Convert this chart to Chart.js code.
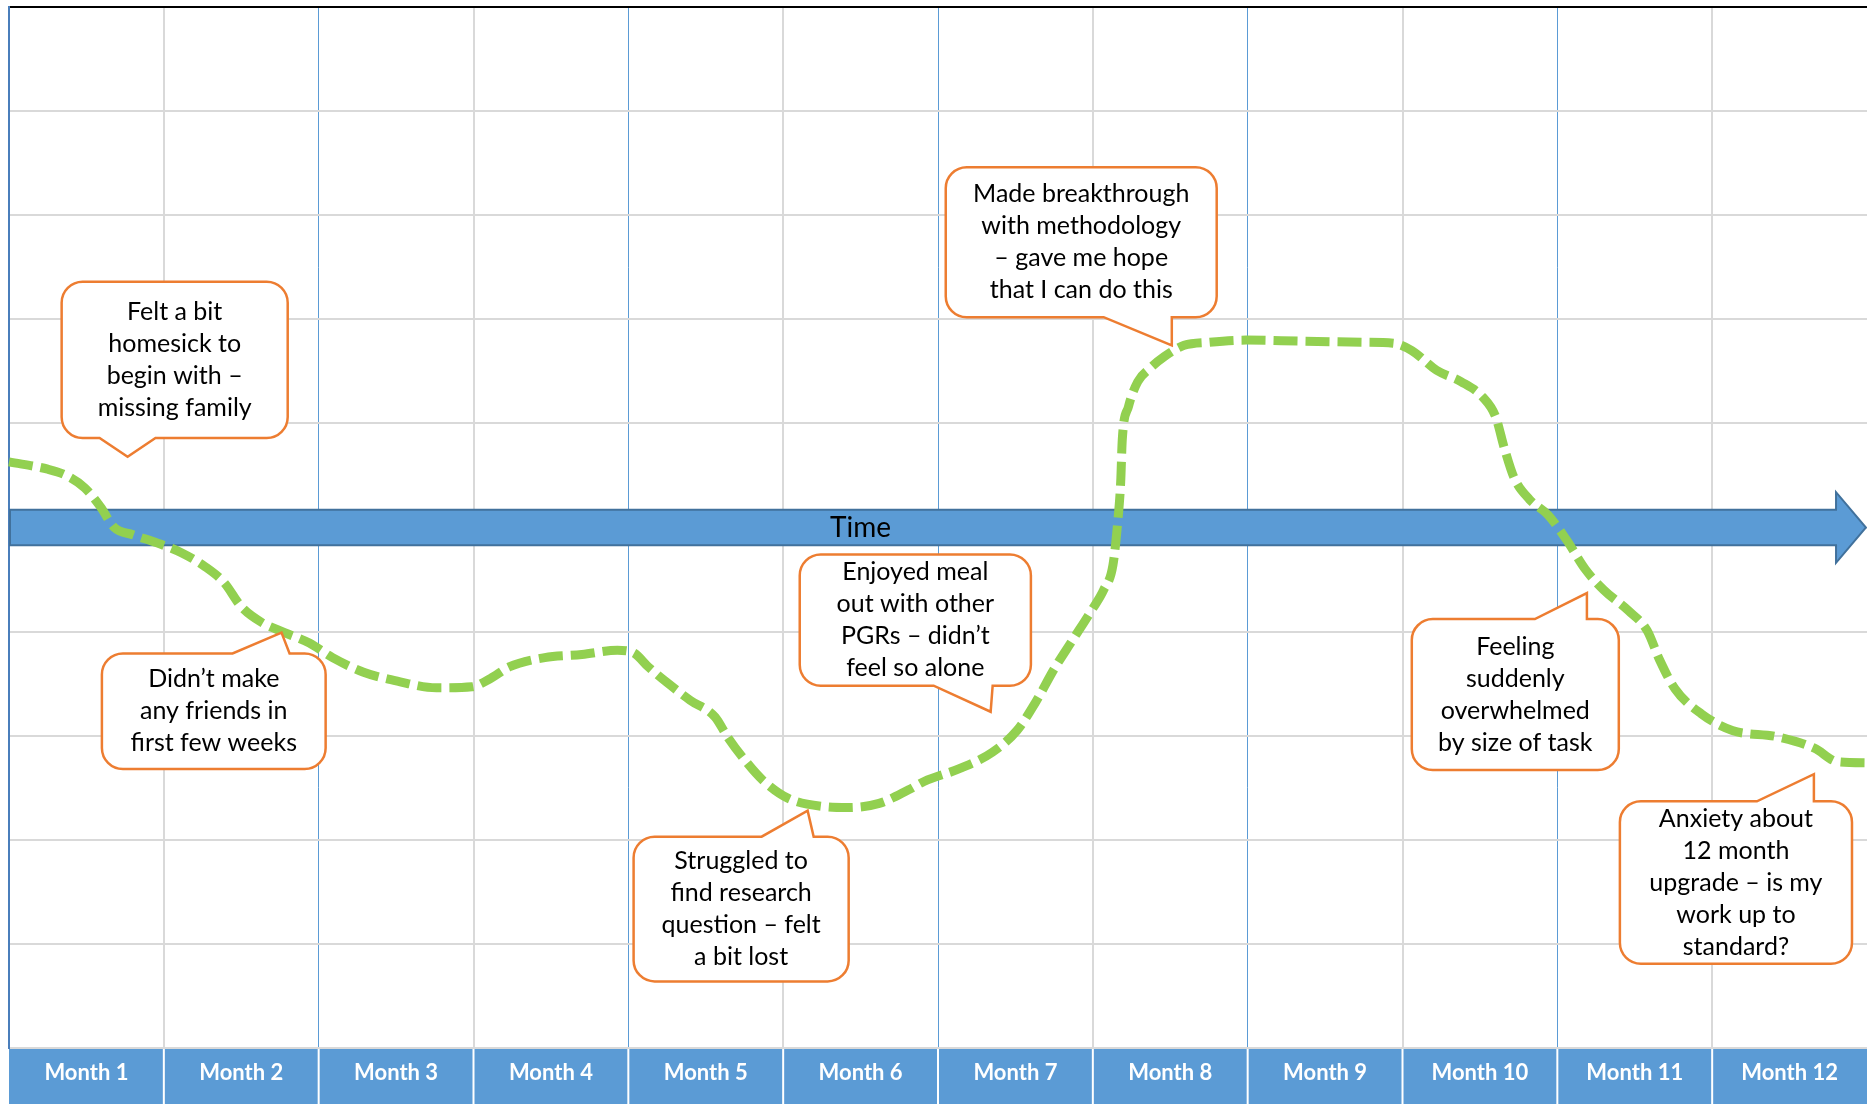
<!DOCTYPE html>
<html lang="en">
<head>
<meta charset="UTF-8">
<title>First year journey</title>
<script src="https://cdn.jsdelivr.net/npm/chart.js@4.4.0/dist/chart.umd.min.js"></script>
<style>
  body {
    margin: 0;
    background: #ffffff;
  }
  .wrap {
    width: 1867px;
    height: 1104px;
    position: relative;
  }
</style>
</head>
<body>
<div class="wrap"><canvas id="journey"></canvas></div>
<script>
const months = ['Month 1', 'Month 2', 'Month 3', 'Month 4', 'Month 5', 'Month 6',
  'Month 7', 'Month 8', 'Month 9', 'Month 10', 'Month 11', 'Month 12'];

// mood line (x in months from the start, y on a 0-10 scale)
const timeX = [0, 0.25, 0.37, 0.49, 0.59, 0.68, 0.80, 0.96, 1.11, 1.27, 1.39, 1.50, 1.63, 1.78, 1.94,
  2.09, 2.29, 2.52, 2.76, 2.99, 3.11, 3.23, 3.46, 3.70, 3.93, 4.03, 4.13, 4.25, 4.40, 4.56, 4.64,
  4.75, 4.87, 5.03, 5.26, 5.42, 5.62, 5.81, 5.91, 6.15, 6.35, 6.51, 6.63, 6.75, 6.87, 6.99, 7.07,
  7.13, 7.16, 7.18, 7.19, 7.23, 7.29, 7.37, 7.46, 7.59, 7.75, 7.99, 8.34, 8.74, 8.94, 9.06, 9.22,
  9.38, 9.52, 9.60, 9.66, 9.72, 9.82, 9.94, 10.06, 10.18, 10.30, 10.46, 10.58, 10.66, 10.76, 10.93,
  11.13, 11.42, 11.66, 11.81, 12];
const moodY = [5.63, 5.56, 5.50, 5.38, 5.20, 5.00, 4.93, 4.85, 4.76, 4.62, 4.47, 4.24, 4.09, 3.99, 3.89,
  3.75, 3.61, 3.52, 3.46, 3.47, 3.55, 3.66, 3.75, 3.78, 3.82, 3.80, 3.66, 3.51, 3.34, 3.18, 2.99,
  2.77, 2.57, 2.40, 2.32, 2.31, 2.35, 2.48, 2.56, 2.69, 2.84, 3.05, 3.32, 3.64, 3.92, 4.20, 4.40,
  4.64, 5.04, 5.44, 5.84, 6.16, 6.40, 6.53, 6.64, 6.75, 6.78, 6.80, 6.79, 6.78, 6.77, 6.70, 6.51,
  6.40, 6.25, 6.07, 5.75, 5.48, 5.27, 5.12, 4.88, 4.60, 4.40, 4.20, 4.01, 3.73, 3.45, 3.21,
  3.05, 2.99, 2.88, 2.75, 2.74];

const noteTexts = [
  ['Felt a bit', 'homesick to', 'begin with –', 'missing family'],
  ['Didn’t make', 'any friends in', 'first few weeks'],
  ['Enjoyed meal', 'out with other', 'PGRs – didn’t', 'feel so alone'],
  ['Made breakthrough', 'with methodology', '– gave me hope', 'that I can do this'],
  ['Feeling', 'suddenly', 'overwhelmed', 'by size of task'],
  ['Struggled to', 'find research', 'question – felt', 'a bit lost'],
  ['Anxiety about', '12 month', 'upgrade – is my', 'work up to', 'standard?']
];

// callout placement in chart units: box x range, box y range (top, bottom), pointer base, pointer tip
const noteBoxes = [
  { x: [0.34, 1.80], y: [7.36, 5.86], base: [0.585, 0.946], tip: [0.766, 5.68], side: 'bottom' },
  { x: [0.60, 2.045], y: [3.79, 2.68], base: [1.444, 1.812], tip: [1.760, 3.99], side: 'top' },
  { x: [5.107, 6.60], y: [4.74, 3.48], base: [5.972, 6.353], tip: [6.340, 3.23], side: 'bottom' },
  { x: [6.05, 7.80], y: [8.46, 7.02], base: [7.070, 7.510], tip: [7.510, 6.75], side: 'bottom' },
  { x: [9.06, 10.397], y: [4.12, 2.67], base: [9.855, 10.191], tip: [10.191, 4.37], side: 'top' },
  { x: [4.034, 5.423], y: [2.03, 0.64], base: [4.861, 5.197], tip: [5.158, 2.28], side: 'top' },
  { x: [10.404, 11.903], y: [2.37, 0.81], base: [11.289, 11.657], tip: [11.657, 2.63], side: 'top' }
];

function drawCallout(ctx, xs, ys, box, lines) {
  const L = xs.getPixelForValue(box.x[0]);
  const R = xs.getPixelForValue(box.x[1]);
  const T = ys.getPixelForValue(box.y[0]);
  const B = ys.getPixelForValue(box.y[1]);
  const b0 = xs.getPixelForValue(box.base[0]);
  const b1 = xs.getPixelForValue(box.base[1]);
  const tx = xs.getPixelForValue(box.tip[0]);
  const ty = ys.getPixelForValue(box.tip[1]);
  const r = 21;

  ctx.beginPath();
  ctx.moveTo(L + r, T);
  if (box.side === 'top') {
    ctx.lineTo(b0, T);
    ctx.lineTo(tx, ty);
    ctx.lineTo(b1, T);
  }
  ctx.lineTo(R - r, T);
  ctx.arcTo(R, T, R, T + r, r);
  ctx.lineTo(R, B - r);
  ctx.arcTo(R, B, R - r, B, r);
  if (box.side === 'bottom') {
    ctx.lineTo(b1, B);
    ctx.lineTo(tx, ty);
    ctx.lineTo(b0, B);
  }
  ctx.lineTo(L + r, B);
  ctx.arcTo(L, B, L, B - r, r);
  ctx.lineTo(L, T + r);
  ctx.arcTo(L, T, L + r, T, r);
  ctx.closePath();
  ctx.fillStyle = '#ffffff';
  ctx.fill();
  ctx.strokeStyle = '#ed7d31';
  ctx.lineWidth = 2.5;
  ctx.stroke();

  ctx.fillStyle = '#000000';
  ctx.font = '25px Lato';
  ctx.textAlign = 'center';
  ctx.textBaseline = 'middle';
  const cx = (L + R) / 2;
  const cy = (T + B) / 2;
  lines.forEach((line, i) => {
    ctx.fillText(line, cx, cy + (i - (lines.length - 1) / 2) * 32);
  });
}

const decorPlugin = {
  id: 'decor',
  beforeDraw(chart) {
    // blue month band under the plot
    const s = chart.scales.months;
    const ctx = chart.ctx;
    ctx.save();
    ctx.fillStyle = '#5b9bd5';
    ctx.fillRect(s.left, s.top + 1, s.right - s.left, s.bottom - s.top - 1);
    ctx.strokeStyle = '#ffffff';
    ctx.lineWidth = 2;
    const w = (s.right - s.left) / months.length;
    for (let i = 1; i < months.length; i++) {
      ctx.beginPath();
      ctx.moveTo(s.left + i * w, s.top);
      ctx.lineTo(s.left + i * w, s.bottom);
      ctx.stroke();
    }
    ctx.restore();
  },
  beforeDatasetsDraw(chart) {
    // the "Time" arrow along the middle
    const xs = chart.scales.x;
    const ys = chart.scales.y;
    const ctx = chart.ctx;
    const x0 = xs.getPixelForValue(0);
    const xh = xs.getPixelForValue(11.8);
    const xt = xs.getPixelForValue(12);
    const yc = ys.getPixelForValue(5);
    const barTop = ys.getPixelForValue(5.17);
    const barBot = ys.getPixelForValue(4.83);
    const headTop = ys.getPixelForValue(5.34);
    const headBot = ys.getPixelForValue(4.66);
    ctx.save();
    ctx.beginPath();
    ctx.moveTo(x0 + 1, barTop);
    ctx.lineTo(xh, barTop);
    ctx.lineTo(xh, headTop);
    ctx.lineTo(xt - 1, yc);
    ctx.lineTo(xh, headBot);
    ctx.lineTo(xh, barBot);
    ctx.lineTo(x0 + 1, barBot);
    ctx.closePath();
    ctx.fillStyle = '#5b9bd5';
    ctx.fill();
    ctx.strokeStyle = '#41719c';
    ctx.lineWidth = 2;
    ctx.stroke();
    ctx.fillStyle = '#000000';
    ctx.font = '28px Lato';
    ctx.textAlign = 'center';
    ctx.textBaseline = 'middle';
    ctx.fillText('Time', xs.getPixelForValue(5.5), yc);
    ctx.restore();
  },
  afterDatasetsDraw(chart) {
    const ctx = chart.ctx;
    ctx.save();
    noteBoxes.forEach((box, i) => drawCallout(ctx, chart.scales.x, chart.scales.y, box, noteTexts[i]));
    ctx.restore();
  }
};

new Chart(document.getElementById('journey').getContext('2d'), {
  type: 'line',
  data: {
    datasets: [{
      data: timeX.map((x, i) => ({ x: x, y: moodY[i] })),
      borderColor: '#92d050',
      borderWidth: 9,
      borderDash: [24, 8],
      cubicInterpolationMode: 'monotone',
      pointRadius: 0,
      fill: false,
      clip: false
    }]
  },
  options: {
    responsive: true,
    maintainAspectRatio: false,
    animation: false,
    layout: { padding: { left: 9, top: 7, right: 0, bottom: 0 } },
    plugins: {
      legend: { display: false },
      tooltip: { enabled: false }
    },
    scales: {
      x: {
        type: 'linear',
        min: 0,
        max: 12,
        position: 'bottom',
        ticks: { display: false, stepSize: 1 },
        border: { display: false },
        grid: {
          drawTicks: false,
          color: ctx => {
            const v = ctx.tick.value;
            if (v === 0 || v === 12) return 'rgba(0,0,0,0)';
            return v % 2 === 0 ? '#5b9bd5' : '#d9d9d9';
          },
          lineWidth: ctx => (ctx.tick.value % 2 === 0 ? 1 : 2)
        }
      },
      months: {
        type: 'category',
        labels: months,
        position: 'bottom',
        offset: true,
        grid: { display: false, drawTicks: false },
        border: { display: false },
        ticks: {
          color: '#ffffff',
          font: { family: 'Lato', weight: 'bold', size: 22 },
          padding: 12,
          autoSkip: false,
          maxRotation: 0
        },
        afterFit(scale) { scale.height = 56; }
      },
      y: {
        min: 0,
        max: 10,
        ticks: { display: false, stepSize: 1 },
        border: { display: true, color: '#4a7ebb', width: 2 },
        grid: {
          drawTicks: false,
          color: ctx => (ctx.tick.value === 10 ? '#000000' : '#d9d9d9'),
          lineWidth: 2
        }
      }
    }
  },
  plugins: [decorPlugin]
});
</script>
</body>
</html>
